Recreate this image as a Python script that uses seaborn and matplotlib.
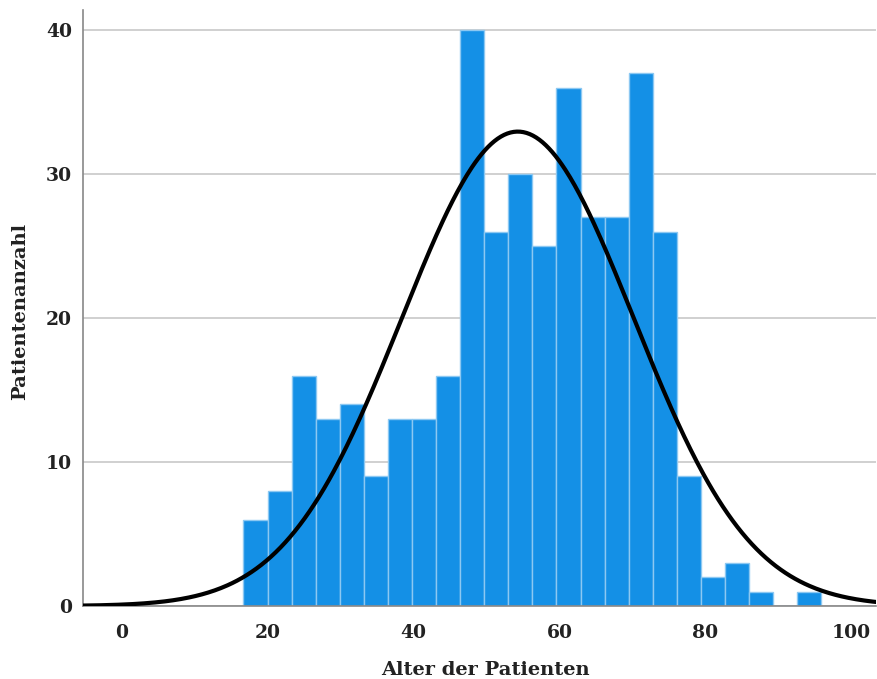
import numpy as np
import pandas as pd
import matplotlib
matplotlib.use("Agg")
import matplotlib.pyplot as plt
import seaborn as sns

# Data
bin_start = 16.7
bin_width = 3.3
counts = [6, 8, 16, 13, 14, 9, 13, 13, 16, 40, 26, 30, 25, 36, 27, 27, 37, 26, 9, 2, 3, 1, 0, 1]
x_ticks = [0, 20, 40, 60, 80, 100]
y_ticks = [0, 10, 20, 30, 40]
curve_mean = 54.3
curve_sd = 15.9

edges = [bin_start + bin_width * i for i in range(len(counts) + 1)]
centers = [(edges[i] + edges[i + 1]) / 2 for i in range(len(counts))]
df = pd.DataFrame({"Alter": centers, "n": counts})

sns.set_theme(style="white")
plt.rcParams['font.family'] = ['DejaVu Serif', 'DejaVu Sans']

fig = plt.figure(figsize=(8.77, 6.79), dpi=100)
ax = fig.add_axes([83 / 877, 73 / 679, 793 / 877, 596 / 679])

sns.histplot(data=df, x="Alter", weights="n", bins=edges, ax=ax,
             color="#1490E6", alpha=1.0, edgecolor="#8cc8f2", linewidth=1.0,
             zorder=2)

N = sum(counts)
xs = np.linspace(-6, 104, 500)
ys = N * bin_width / (curve_sd * np.sqrt(2 * np.pi)) * np.exp(-0.5 * ((xs - curve_mean) / curve_sd) ** 2)
sns.lineplot(x=xs, y=ys, ax=ax, color="black", linewidth=3, zorder=3)

ax.set_xlim(-5.3, 103.4)
ax.set_ylim(0, 41.4)
ax.set_xticks(x_ticks)
ax.set_yticks(y_ticks)
ax.yaxis.grid(True, color="#c8c8c8", linewidth=1.2, zorder=0)
ax.set_axisbelow(True)
for s in ["top", "right"]:
    ax.spines[s].set_visible(False)
for s in ["left", "bottom"]:
    ax.spines[s].set_color("#888888")
    ax.spines[s].set_linewidth(1.2)
ax.tick_params(axis="both", length=0, labelsize=13.5, colors="#222222")
ax.tick_params(axis="x", pad=13)
ax.tick_params(axis="y", pad=8)
for lab in ax.get_yticklabels() + ax.get_xticklabels():
    lab.set_fontweight("bold")
ax.set_xlabel("Alter der Patienten", fontsize=14, fontweight="bold", color="#222222", va="center")
ax.set_ylabel("Patientenanzahl", fontsize=14, fontweight="bold", color="#222222", va="center")
ax.xaxis.set_label_coords((485 - 83) / 793, -0.108)
ax.yaxis.set_label_coords((20 - 83) / 793, 0.495)

fig.savefig("out.png", dpi=100)
